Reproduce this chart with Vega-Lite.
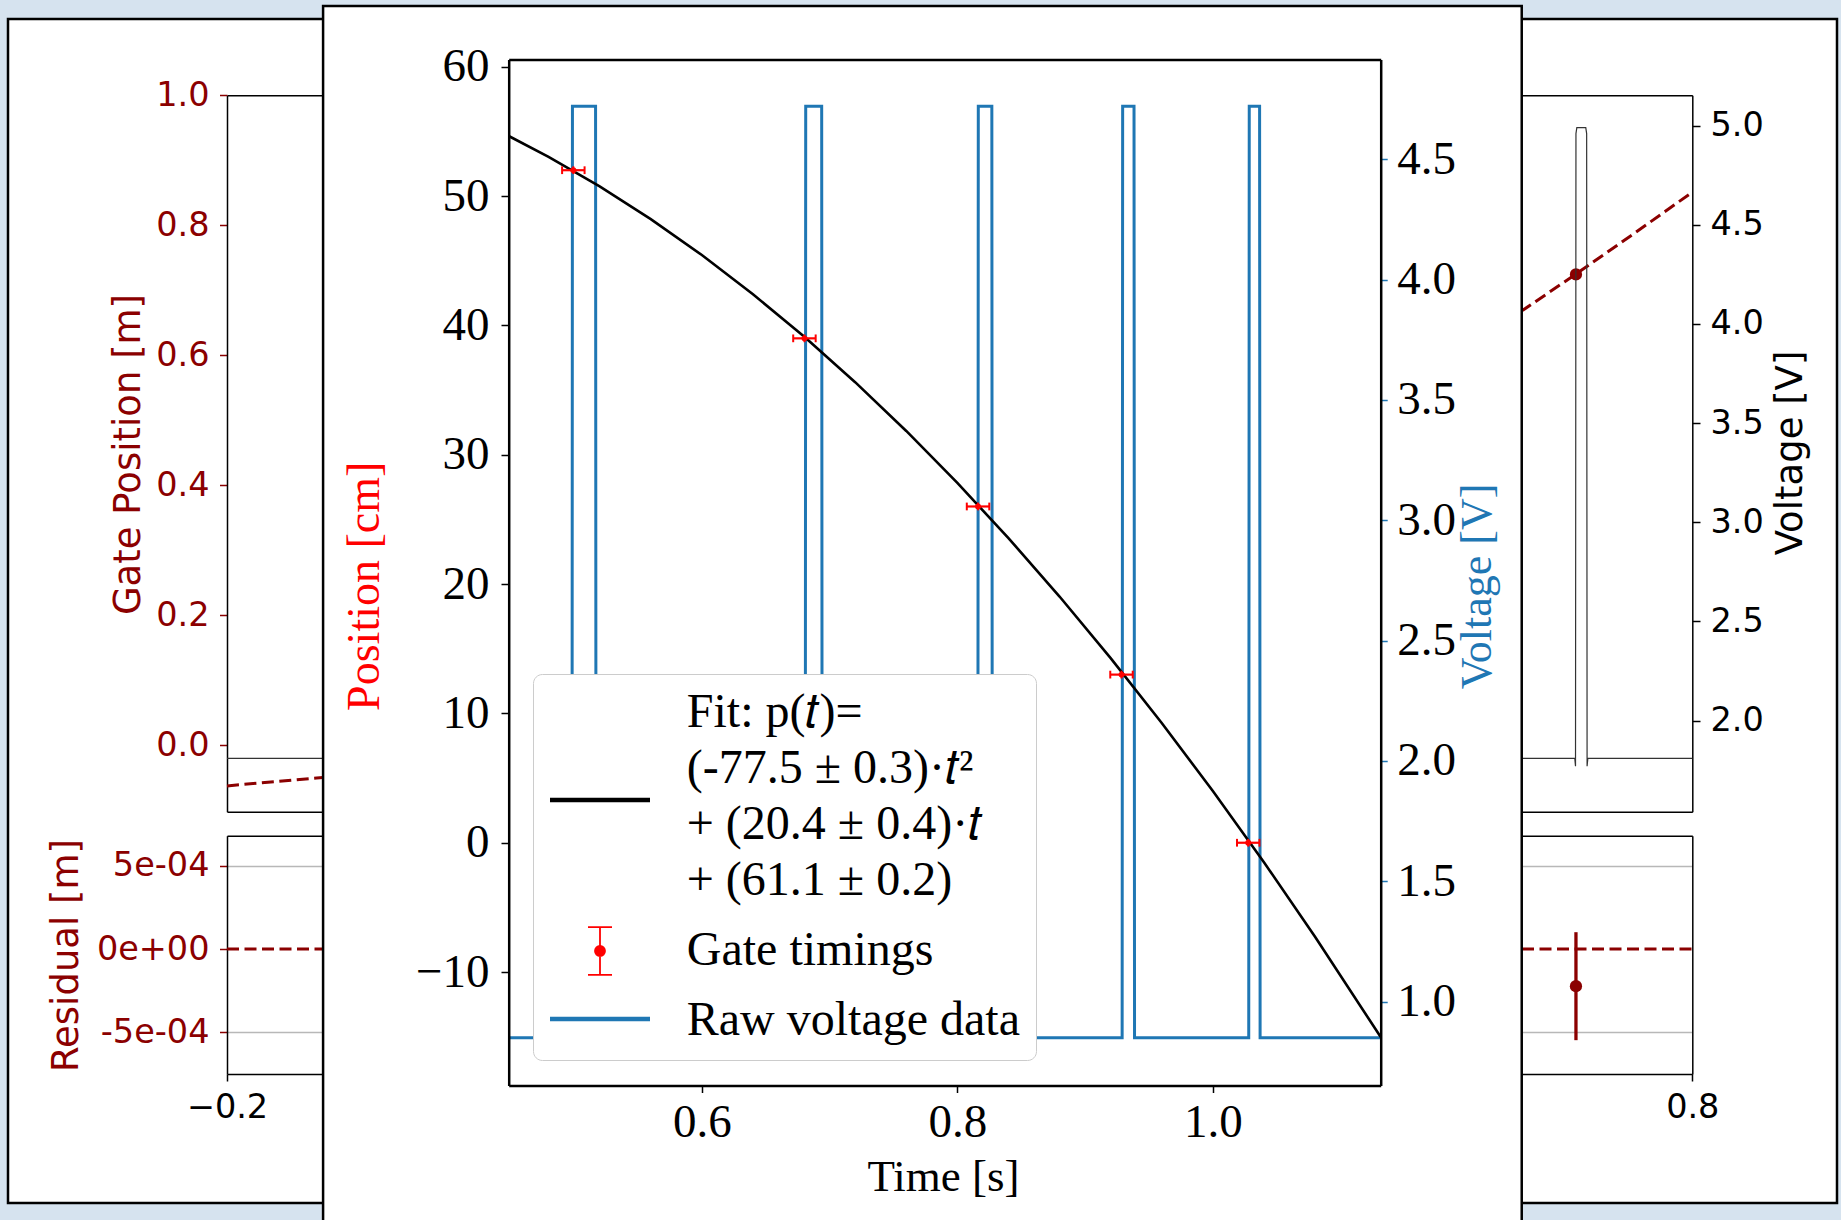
{
  "$schema": "https://vega.github.io/schema/vega-lite/v6.json",
  "width": 1829,
  "height": 1184,
  "autosize": {"type": "none"},
  "padding": {"left": 8, "top": 19, "right": 4, "bottom": 17},
  "background": "#d6e3ef",
  "view": {"fill": "white", "stroke": "black", "strokeWidth": 2.5},
  "config": {
    "axis": {"grid": false, "labelOverlap": false, "labelFlush": false, "titleFontWeight": "normal", "labelFontWeight": "normal"}
  },
  "datasets": {
    "gateFit": [
      {"t": -0.2, "g": -0.0623}, {"t": -0.1388, "g": -0.0502}, {"t": -0.12, "g": -0.0464},
      {"t": 0.6847, "g": 0.67}, {"t": 0.7206, "g": 0.725}, {"t": 0.76, "g": 0.787}, {"t": 0.8, "g": 0.851}
    ],
    "gateDot": [{"t": 0.7206, "g": 0.7245}],
    "bgTrace": [
      {"t": -0.2, "v": 1.81}, {"t": 0.7198, "v": 1.81}, {"t": 0.7203, "v": 1.77}, {"t": 0.7206, "v": 4.96},
      {"t": 0.7212, "v": 4.99}, {"t": 0.7273, "v": 4.99}, {"t": 0.7279, "v": 4.96}, {"t": 0.7282, "v": 1.77},
      {"t": 0.7287, "v": 1.81}, {"t": 0.8, "v": 1.81}
    ],
    "resZero": [{"t": -0.2, "r": 0}, {"t": 0.8, "r": 0}],
    "resPoint": [{"t": 0.7206, "r": -0.000223, "rlo": -0.000547, "rhi": 0.000101}],
    "figure": [{"t0": 0.3035, "t1": 1.2418, "p0": -30, "p1": 64.69}],
    "voltage": [
      {"t": 0.4488, "v": 0.85, "series": "Raw voltage data"},
      {"t": 0.4983, "v": 0.85, "series": "Raw voltage data"}, {"t": 0.4987, "v": 4.72, "series": "Raw voltage data"},
      {"t": 0.5168, "v": 4.72, "series": "Raw voltage data"}, {"t": 0.5172, "v": 0.85, "series": "Raw voltage data"},
      {"t": 0.6809, "v": 0.85, "series": "Raw voltage data"}, {"t": 0.6813, "v": 4.72, "series": "Raw voltage data"},
      {"t": 0.6938, "v": 4.72, "series": "Raw voltage data"}, {"t": 0.6942, "v": 0.85, "series": "Raw voltage data"},
      {"t": 0.816, "v": 0.85, "series": "Raw voltage data"}, {"t": 0.8164, "v": 4.72, "series": "Raw voltage data"},
      {"t": 0.827, "v": 4.72, "series": "Raw voltage data"}, {"t": 0.8274, "v": 0.85, "series": "Raw voltage data"},
      {"t": 0.929, "v": 0.85, "series": "Raw voltage data"}, {"t": 0.9294, "v": 4.72, "series": "Raw voltage data"},
      {"t": 0.9383, "v": 4.72, "series": "Raw voltage data"}, {"t": 0.9387, "v": 0.85, "series": "Raw voltage data"},
      {"t": 1.0281, "v": 0.85, "series": "Raw voltage data"}, {"t": 1.0285, "v": 4.72, "series": "Raw voltage data"},
      {"t": 1.0366, "v": 4.72, "series": "Raw voltage data"}, {"t": 1.037, "v": 0.85, "series": "Raw voltage data"},
      {"t": 1.1314, "v": 0.85, "series": "Raw voltage data"}
    ],
    "fit": [
      {"t": 0.4488, "p": 54.646, "series": "Fit"}, {"t": 0.48, "p": 53.036, "series": "Fit"},
      {"t": 0.52, "p": 50.752, "series": "Fit"}, {"t": 0.56, "p": 48.22, "series": "Fit"},
      {"t": 0.6, "p": 45.44, "series": "Fit"}, {"t": 0.64, "p": 42.412, "series": "Fit"},
      {"t": 0.68, "p": 39.136, "series": "Fit"}, {"t": 0.72, "p": 35.612, "series": "Fit"},
      {"t": 0.76, "p": 31.84, "series": "Fit"}, {"t": 0.8, "p": 27.82, "series": "Fit"},
      {"t": 0.84, "p": 23.552, "series": "Fit"}, {"t": 0.88, "p": 19.036, "series": "Fit"},
      {"t": 0.92, "p": 14.272, "series": "Fit"}, {"t": 0.96, "p": 9.26, "series": "Fit"},
      {"t": 1.0, "p": 4.0, "series": "Fit"}, {"t": 1.04, "p": -1.508, "series": "Fit"},
      {"t": 1.08, "p": -7.264, "series": "Fit"}, {"t": 1.1314, "p": -15.024, "series": "Fit"}
    ],
    "gates": [
      {"t": 0.4994, "p": 52, "tlo": 0.4906, "thi": 0.5082, "plo": 51.7, "phi": 52.3, "series": "Gate timings"},
      {"t": 0.6803, "p": 39, "tlo": 0.6715, "thi": 0.6891, "plo": 38.7, "phi": 39.3, "series": "Gate timings"},
      {"t": 0.8162, "p": 26, "tlo": 0.8074, "thi": 0.825, "plo": 25.7, "phi": 26.3, "series": "Gate timings"},
      {"t": 0.9285, "p": 13, "tlo": 0.9197, "thi": 0.9373, "plo": 12.7, "phi": 13.3, "series": "Gate timings"},
      {"t": 1.0277, "p": 0, "tlo": 1.0189, "thi": 1.0365, "plo": -0.3, "phi": 0.3, "series": "Gate timings"}
    ]
  },
  "resolve": {
    "scale": {"x": "independent", "y": "independent"},
    "axis": {"x": "independent", "y": "independent"}
  },
  "layer": [
    {
      "data": {"name": "gateFit"},
      "mark": {"type": "line", "color": "darkred", "strokeWidth": 3, "strokeDash": [12, 5.5]},
      "encoding": {
        "x": {"field": "t", "type": "quantitative",
          "scale": {"domain": [-0.2, 0.8], "range": [219, 1684.3], "nice": false, "zero": false},
          "axis": {"orient": "top", "offset": -76.3, "ticks": false, "labels": false, "title": null, "domainColor": "black", "domainWidth": 1.5}},
        "y": {"field": "g", "type": "quantitative",
          "scale": {"domain": [-0.102, 1.0], "range": [792.7, 76.3], "nice": false, "zero": false},
          "axis": {"orient": "left", "offset": -219, "values": [0, 0.2, 0.4, 0.6, 0.8, 1.0], "format": ".1f",
            "labelFont": "DejaVu Sans", "labelFontSize": 33.5, "labelColor": "darkred", "labelPadding": 10.5,
            "tickColor": "darkred", "tickSize": 7.5, "tickWidth": 1.5, "domainColor": "black", "domainWidth": 1.5,
            "title": "Gate Position [m]", "titleFont": "DejaVu Sans", "titleFontSize": 37, "titleColor": "darkred",
            "titleAngle": 270, "titleBaseline": "alphabetic", "titleAlign": "center", "titleX": -88, "titleY": 435}}
      }
    },
    {
      "data": {"name": "gateDot"},
      "mark": {"type": "point", "filled": true, "color": "darkred", "size": 150, "opacity": 1},
      "encoding": {
        "x": {"field": "t", "type": "quantitative", "scale": {"domain": [-0.2, 0.8], "range": [219, 1684.3], "nice": false, "zero": false}, "axis": null},
        "y": {"field": "g", "type": "quantitative", "scale": {"domain": [-0.102, 1.0], "range": [792.7, 76.3], "nice": false, "zero": false}, "axis": null}
      }
    },
    {
      "data": {"name": "bgTrace"},
      "mark": {"type": "line", "color": "#333333", "strokeWidth": 1.2},
      "encoding": {
        "x": {"field": "t", "type": "quantitative",
          "scale": {"domain": [-0.2, 0.8], "range": [219, 1684.3], "nice": false, "zero": false},
          "axis": {"orient": "bottom", "offset": -391.3, "ticks": false, "labels": false, "title": null, "domainColor": "black", "domainWidth": 1.5}},
        "y": {"field": "v", "type": "quantitative",
          "scale": {"domain": [1.541, 5.153], "range": [792.7, 76.3], "nice": false, "zero": false},
          "axis": {"orient": "right", "offset": -144.7, "values": [2.0, 2.5, 3.0, 3.5, 4.0, 4.5, 5.0], "format": ".1f",
            "labelFont": "DejaVu Sans", "labelFontSize": 33.5, "labelColor": "black", "labelPadding": 10,
            "tickColor": "black", "tickSize": 7.7, "tickWidth": 1.5, "domainColor": "black", "domainWidth": 1.5,
            "title": "Voltage [V]", "titleFont": "DejaVu Sans", "titleFontSize": 37, "titleColor": "black",
            "titleAngle": 270, "titleBaseline": "alphabetic", "titleAlign": "center", "titleX": 109.4, "titleY": 433.5}}
      }
    },
    {
      "data": {"name": "resZero"},
      "mark": {"type": "line", "color": "darkred", "strokeWidth": 3, "strokeDash": [12, 5.5]},
      "encoding": {
        "x": {"field": "t", "type": "quantitative",
          "scale": {"domain": [-0.2, 0.8], "range": [219, 1684.3], "nice": false, "zero": false},
          "axis": {"orient": "bottom", "offset": -129, "values": [-0.2, 0, 0.2, 0.4, 0.6, 0.8], "format": ".1f",
            "labelFont": "DejaVu Sans", "labelFontSize": 33.5, "labelColor": "black", "labelPadding": 10.3,
            "tickColor": "black", "tickSize": 7, "tickWidth": 1.5, "domainColor": "black", "domainWidth": 1.5, "title": null}},
        "y": {"field": "r", "type": "quantitative",
          "scale": {"domain": [-0.00075, 0.00068], "range": [1055, 816.7], "nice": false, "zero": false},
          "axis": {"orient": "left", "offset": -219, "values": [-0.0005, 0, 0.0005],
            "labelExpr": "datum.value > 0 ? '5e-04' : datum.value < 0 ? '-5e-04' : '0e+00'",
            "labelFont": "DejaVu Sans", "labelFontSize": 33.5, "labelColor": "darkred", "labelPadding": 10.5,
            "tickColor": "darkred", "tickSize": 7.5, "tickWidth": 1.5, "domainColor": "black", "domainWidth": 1.5,
            "grid": true, "gridColor": "#b8b8b8", "gridWidth": 1.3,
            "gridOpacity": {"condition": {"test": "datum.value === 0", "value": 0}, "value": 1},
            "title": "Residual [m]", "titleFont": "DejaVu Sans", "titleFontSize": 37, "titleColor": "darkred",
            "titleAngle": 270, "titleBaseline": "alphabetic", "titleAlign": "center", "titleX": -150, "titleY": 936}}
      }
    },
    {
      "data": {"name": "resPoint"},
      "mark": {"type": "rule", "color": "darkred", "strokeWidth": 3.3},
      "encoding": {
        "x": {"field": "t", "type": "quantitative",
          "scale": {"domain": [-0.2, 0.8], "range": [219, 1684.3], "nice": false, "zero": false},
          "axis": {"orient": "top", "offset": -816.7, "ticks": false, "labels": false, "title": null, "domainColor": "black", "domainWidth": 1.5}},
        "y": {"field": "rlo", "type": "quantitative",
          "scale": {"domain": [-0.00075, 0.00068], "range": [1055, 816.7], "nice": false, "zero": false},
          "axis": {"orient": "right", "offset": -144.7, "ticks": false, "labels": false, "title": null, "domainColor": "black", "domainWidth": 1.5}},
        "y2": {"field": "rhi"}
      }
    },
    {
      "data": {"name": "resPoint"},
      "mark": {"type": "point", "filled": true, "color": "darkred", "size": 150, "opacity": 1},
      "encoding": {
        "x": {"field": "t", "type": "quantitative", "scale": {"domain": [-0.2, 0.8], "range": [219, 1684.3], "nice": false, "zero": false}, "axis": null},
        "y": {"field": "r", "type": "quantitative", "scale": {"domain": [-0.00075, 0.00068], "range": [1055, 816.7], "nice": false, "zero": false}, "axis": null}
      }
    },
    {
      "data": {"name": "figure"},
      "mark": {"type": "rect", "fill": "white", "stroke": "black", "strokeWidth": 2.5},
      "encoding": {
        "x": {"field": "t0", "type": "quantitative", "scale": {"domain": [0.4488, 1.1314], "range": [500.7, 1372.7], "nice": false, "zero": false}, "axis": null},
        "x2": {"field": "t1"},
        "y": {"field": "p0", "type": "quantitative", "scale": {"domain": [-18.77, 60.56], "range": [1066.5, 40.5], "nice": false, "zero": false}, "axis": null},
        "y2": {"field": "p1"}
      }
    },
    {
      "data": {"name": "voltage"},
      "mark": {"type": "line", "strokeWidth": 3},
      "encoding": {
        "x": {"field": "t", "type": "quantitative",
          "scale": {"domain": [0.4488, 1.1314], "range": [500.7, 1372.7], "nice": false, "zero": false},
          "axis": {"orient": "top", "offset": -40.5, "ticks": false, "labels": false, "title": null, "domainColor": "black", "domainWidth": 2.5, "zindex": 1}},
        "y": {"field": "v", "type": "quantitative",
          "scale": {"domain": [0.652, 4.914], "range": [1066.5, 40.5], "nice": false, "zero": false},
          "axis": {"orient": "right", "offset": -456.3, "values": [1.0, 1.5, 2.0, 2.5, 3.0, 3.5, 4.0, 4.5], "format": ".1f",
            "labelFont": "Liberation Serif", "labelFontSize": 47, "labelColor": "black", "labelPadding": 9.5,
            "tickColor": "#1f77b4", "tickSize": 6.5, "tickWidth": 1.5, "domainColor": "black", "domainWidth": 2.5,
            "title": "Voltage [V]", "titleFont": "Liberation Serif", "titleFontSize": 44, "titleColor": "#1f77b4",
            "titleAngle": 270, "titleBaseline": "alphabetic", "titleAlign": "center", "titleX": 109.3, "titleY": 567, "zindex": 1}},
        "color": {"field": "series", "type": "nominal",
          "scale": {"domain": ["Fit", "Gate timings", "Raw voltage data"], "range": ["#000000", "#ff0000", "#1f77b4"]}}
      }
    },
    {
      "data": {"name": "fit"},
      "mark": {"type": "line", "strokeWidth": 2.6},
      "encoding": {
        "x": {"field": "t", "type": "quantitative",
          "scale": {"domain": [0.4488, 1.1314], "range": [500.7, 1372.7], "nice": false, "zero": false},
          "axis": {"orient": "bottom", "offset": -117.5, "values": [0.6, 0.8, 1.0], "format": ".1f",
            "labelFont": "Liberation Serif", "labelFontSize": 47, "labelColor": "black", "labelPadding": 7.1,
            "tickColor": "black", "tickSize": 7, "tickWidth": 1.5, "domainColor": "black", "domainWidth": 2.5,
            "title": "Time [s]", "titleFont": "Liberation Serif", "titleFontSize": 45, "titleColor": "black",
            "titleBaseline": "alphabetic", "titleAlign": "center", "titleX": 935, "titleY": 104.5, "zindex": 1}},
        "y": {"field": "p", "type": "quantitative",
          "scale": {"domain": [-18.77, 60.56], "range": [1066.5, 40.5], "nice": false, "zero": false},
          "axis": {"orient": "left", "offset": -500.7, "values": [-10, 0, 10, 20, 30, 40, 50, 60],
            "labelFont": "Liberation Serif", "labelFontSize": 47, "labelColor": "black", "labelPadding": 12,
            "tickColor": "black", "tickSize": 7.7, "tickWidth": 1.5, "domainColor": "black", "domainWidth": 2.5,
            "title": "Position [cm]", "titleFont": "Liberation Serif", "titleFontSize": 46, "titleColor": "#ff0000",
            "titleAngle": 270, "titleBaseline": "alphabetic", "titleAlign": "center", "titleX": -130.7, "titleY": 566.8, "zindex": 1}},
        "color": {"field": "series", "type": "nominal",
          "scale": {"domain": ["Fit", "Gate timings", "Raw voltage data"], "range": ["#000000", "#ff0000", "#1f77b4"]},
          "legend": {
            "orient": "none", "legendX": 525, "legendY": 655, "title": null, "zindex": 1,
            "padding": 15, "fillColor": "white", "strokeColor": "#cccccc", "cornerRadius": 9,
            "symbolSize": 10000, "symbolStrokeWidth": 4.3, "symbolOffset": 28, "labelOffset": 62.8, "rowPadding": 18,
            "labelFont": "Liberation Serif", "labelFontSize": 48, "labelColor": "black", "labelLimit": 0,
            "labelExpr": "datum.label === 'Fit' ? ['Fit: p(𝑡)=', '(-77.5 ± 0.3)·𝑡²', '+ (20.4 ± 0.4)·𝑡', '+ (61.1 ± 0.2)'] : datum.label",
            "encode": {
              "symbols": {"update": {
                "shape": {"signal": "datum.value === 'Gate timings' ? 'M0,-0.476V0.476M-0.24,-0.476H0.24M-0.24,0.476H0.24M-0.1,0A0.1,0.1,0,1,0,0.1,0A0.1,0.1,0,1,0,-0.1,0Z' : datum.value === 'Fit' ? 'M-1,1.74H1' : 'M-1,-0.04H1'"},
                "stroke": {"signal": "datum.value === 'Fit' ? '#000000' : datum.value === 'Gate timings' ? '#ff0000' : '#1f77b4'"},
                "fill": {"signal": "datum.value === 'Gate timings' ? '#ff0000' : 'transparent'"},
                "strokeWidth": {"signal": "datum.value === 'Gate timings' ? 1.8 : 4.3"},
                "opacity": {"value": 1}
              }},
              "labels": {"update": {"lineHeight": {"value": 56}}}
            }
          }}
      }
    },
    {
      "data": {"name": "gates"},
      "mark": {"type": "rule", "color": "#ff0000", "strokeWidth": 2.2},
      "encoding": {
        "x": {"field": "tlo", "type": "quantitative", "scale": {"domain": [0.4488, 1.1314], "range": [500.7, 1372.7], "nice": false, "zero": false}, "axis": null},
        "x2": {"field": "thi"},
        "y": {"field": "p", "type": "quantitative", "scale": {"domain": [-18.77, 60.56], "range": [1066.5, 40.5], "nice": false, "zero": false}, "axis": null}
      }
    },
    {
      "data": {"name": "gates"},
      "mark": {"type": "rule", "color": "#ff0000", "strokeWidth": 2},
      "encoding": {
        "x": {"field": "tlo", "type": "quantitative", "scale": {"domain": [0.4488, 1.1314], "range": [500.7, 1372.7], "nice": false, "zero": false}, "axis": null},
        "y": {"field": "plo", "type": "quantitative", "scale": {"domain": [-18.77, 60.56], "range": [1066.5, 40.5], "nice": false, "zero": false}, "axis": null},
        "y2": {"field": "phi"}
      }
    },
    {
      "data": {"name": "gates"},
      "mark": {"type": "rule", "color": "#ff0000", "strokeWidth": 2},
      "encoding": {
        "x": {"field": "thi", "type": "quantitative", "scale": {"domain": [0.4488, 1.1314], "range": [500.7, 1372.7], "nice": false, "zero": false}, "axis": null},
        "y": {"field": "plo", "type": "quantitative", "scale": {"domain": [-18.77, 60.56], "range": [1066.5, 40.5], "nice": false, "zero": false}, "axis": null},
        "y2": {"field": "phi"}
      }
    },
    {
      "data": {"name": "gates"},
      "mark": {"type": "rule", "color": "#ff0000", "strokeWidth": 2},
      "encoding": {
        "x": {"field": "t", "type": "quantitative", "scale": {"domain": [0.4488, 1.1314], "range": [500.7, 1372.7], "nice": false, "zero": false}, "axis": null},
        "y": {"field": "plo", "type": "quantitative", "scale": {"domain": [-18.77, 60.56], "range": [1066.5, 40.5], "nice": false, "zero": false}, "axis": null},
        "y2": {"field": "phi"}
      }
    },
    {
      "data": {"name": "gates"},
      "mark": {"type": "point", "filled": true, "size": 35, "opacity": 1},
      "encoding": {
        "x": {"field": "t", "type": "quantitative", "scale": {"domain": [0.4488, 1.1314], "range": [500.7, 1372.7], "nice": false, "zero": false}, "axis": null},
        "y": {"field": "p", "type": "quantitative", "scale": {"domain": [-18.77, 60.56], "range": [1066.5, 40.5], "nice": false, "zero": false}, "axis": null},
        "color": {"field": "series", "type": "nominal",
          "scale": {"domain": ["Fit", "Gate timings", "Raw voltage data"], "range": ["#000000", "#ff0000", "#1f77b4"]}}
      }
    }
  ]
}
